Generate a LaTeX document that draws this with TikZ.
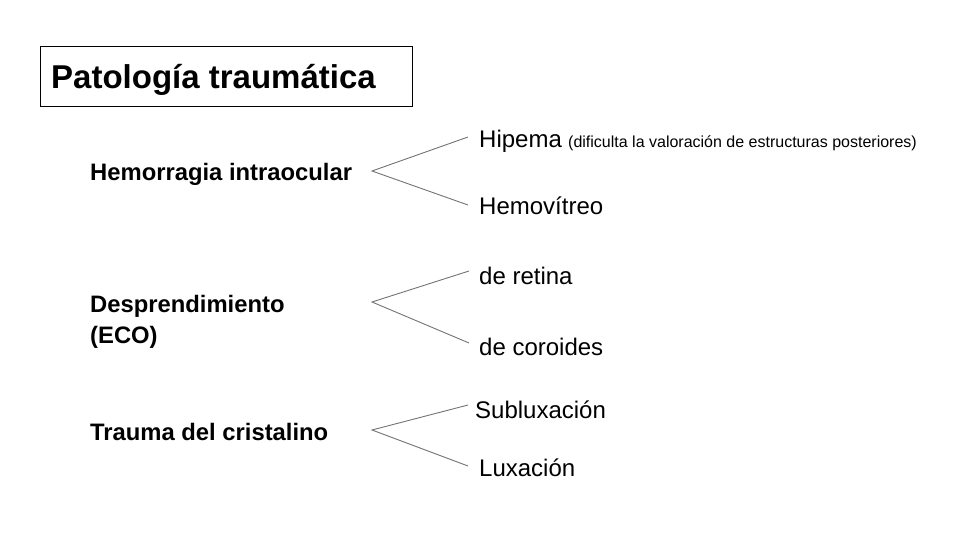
\documentclass[tikz,border=0pt]{standalone}
\usepackage{fontspec}
\setmainfont{Liberation Sans}
\begin{document}
\begin{tikzpicture}[x=1pt,y=-1pt,
  lbl/.style={inner sep=0pt,anchor=base west,font=\fontsize{24}{28}\selectfont},
  cat/.style={inner sep=0pt,anchor=base west,font=\bfseries\fontsize{23.8}{31}\selectfont,align=left},
  branch/.style={draw=black!55,line width=0.9pt}]
\useasboundingbox (0,0) rectangle (960,540);
\draw[line width=0.9pt] (40,46) rectangle (412,106);
\node[inner sep=0pt,anchor=base west,font=\bfseries\fontsize{33}{36}\selectfont] (title) at (51,89) {Patología traumática};
% categories
\node[cat] (hem) at (90,180) {Hemorragia intraocular};
\node[cat] (des) at (90,343) {Desprendimiento\\(ECO)};
\node[cat] (tra) at (90,440) {Trauma del cristalino};
% leaves
\node[lbl] (hip) at (479,148) {Hipema};
\node[inner sep=0pt,anchor=base west,font=\fontsize{16}{18}\selectfont] (hipnote) at (568,148) {(dificulta la valoración de estructuras posteriores)};
\node[lbl] (hev) at (479,214) {Hemovítreo};
\node[lbl] (ret) at (479,284) {de retina};
\node[lbl] (cor) at (479,355) {de coroides};
\node[lbl] (sub) at (475,418) {Subluxación};
\node[lbl] (lux) at (479,476) {Luxación};
% branch points
\coordinate (a1) at (372,171);
\coordinate (e11) at (468,137);
\coordinate (e12) at (468,205);
\coordinate (a2) at (372,302);
\coordinate (e21) at (469,271);
\coordinate (e22) at (469,343);
\coordinate (a3) at (372,430);
\coordinate (e31) at (468,405);
\coordinate (e32) at (468,466);
\draw[branch] (e11) -- (a1) -- (e12);
\draw[branch] (e21) -- (a2) -- (e22);
\draw[branch] (e31) -- (a3) -- (e32);
\end{tikzpicture}
\end{document}
